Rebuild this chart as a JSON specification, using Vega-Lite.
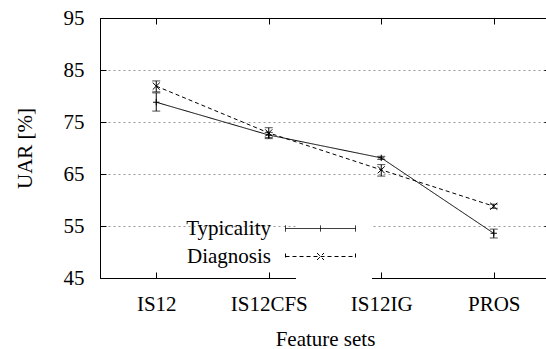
{
  "$schema": "https://vega.github.io/schema/vega-lite/v6.json",
  "width": 450,
  "height": 260,
  "autosize": {"type": "none"},
  "padding": {"left": 100, "top": 18, "right": 0, "bottom": 71},
  "background": "white",
  "config": {
    "font": "Liberation Serif",
    "view": {"stroke": "black", "strokeWidth": 1},
    "axis": {
      "labelFont": "Liberation Serif",
      "titleFont": "Liberation Serif",
      "labelFontSize": 21,
      "titleFontSize": 21,
      "titleFontWeight": "normal",
      "labelColor": "black",
      "titleColor": "black",
      "domainColor": "black",
      "tickColor": "black",
      "tickSize": -6,
      "domainWidth": 1,
      "tickWidth": 1
    }
  },
  "data": {
    "values": [
      {"set": "IS12", "series": "Typicality", "uar": 78.8, "lo": 77.1, "hi": 80.6},
      {"set": "IS12CFS", "series": "Typicality", "uar": 72.5, "lo": 72.0, "hi": 73.0},
      {"set": "IS12IG", "series": "Typicality", "uar": 68.1, "lo": 67.8, "hi": 68.4},
      {"set": "PROS", "series": "Typicality", "uar": 53.6, "lo": 52.7, "hi": 54.4},
      {"set": "IS12", "series": "Diagnosis", "uar": 81.9, "lo": 80.8, "hi": 82.9},
      {"set": "IS12CFS", "series": "Diagnosis", "uar": 72.9, "lo": 71.8, "hi": 73.9},
      {"set": "IS12IG", "series": "Diagnosis", "uar": 65.8, "lo": 64.6, "hi": 66.8},
      {"set": "PROS", "series": "Diagnosis", "uar": 58.8, "lo": 58.4, "hi": 59.2}
    ]
  },
  "resolve": {"axis": {"x": "independent", "y": "independent"}},
  "layer": [
    {
      "mark": {"type": "line", "color": "black", "strokeWidth": 1},
      "encoding": {
        "x": {"field": "set", "type": "ordinal", "sort": ["IS12", "IS12CFS", "IS12IG", "PROS"],
              "scale": {"type": "point", "padding": 0.5},
              "axis": {"title": "Feature sets", "labelAngle": 0, "labelPadding": 21, "titlePadding": 14, "grid": false}},
        "y": {"field": "uar", "type": "quantitative", "scale": {"domain": [45, 95], "nice": false, "zero": false},
              "axis": {"title": "UAR [%]", "values": [45, 55, 65, 75, 85, 95], "grid": false, "labelPadding": 22, "titlePadding": 28}},
        "strokeDash": {"field": "series", "type": "nominal",
          "scale": {"domain": ["Typicality", "Diagnosis"], "range": [[1, 0], [4, 3]]},
          "legend": {
            "title": null,
            "orient": "none",
            "legendX": 196,
            "legendY": 186,
            "labelFont": "Liberation Serif",
            "labelFontSize": 21,
            "labelColor": "black",
            "labelAlign": "right",
            "labelOffset": -60,
            "symbolSize": 100,
            "symbolStrokeWidth": 1,
            "symbolStrokeColor": "black",
            "rowPadding": 6,
            "fillColor": "white",
            "padding": 14,
            "encode": {
              "symbols": {
                "update": {
                  "shape": {"signal": "datum.value === 'Typicality' ? 'M-7,0H7M-7,-0.6V0.6M7,-0.6V0.6M0,-0.6V0.6' : 'M-7,0H7M-7,-0.6V0.6M7,-0.6V0.6M-0.7,-0.7L0.7,0.7M-0.7,0.7L0.7,-0.7'"},
                  "size": {"value": 100},
                  "stroke": {"value": "black"}
                }
              }
            }
          }}
      }
    },
    {
      "mark": {"type": "rule", "color": "black", "strokeWidth": 1},
      "encoding": {
        "x": {"field": "set", "type": "ordinal", "sort": ["IS12", "IS12CFS", "IS12IG", "PROS"], "scale": {"type": "point", "padding": 0.5}, "axis": null},
        "y": {"field": "lo", "type": "quantitative", "axis": null},
        "y2": {"field": "hi"}
      }
    },
    {
      "mark": {"type": "tick", "color": "black", "thickness": 1, "size": 8},
      "encoding": {
        "x": {"field": "set", "type": "ordinal", "sort": ["IS12", "IS12CFS", "IS12IG", "PROS"], "scale": {"type": "point", "padding": 0.5}, "axis": null},
        "y": {"field": "lo", "type": "quantitative", "axis": null}
      }
    },
    {
      "mark": {"type": "tick", "color": "black", "thickness": 1, "size": 8},
      "encoding": {
        "x": {"field": "set", "type": "ordinal", "sort": ["IS12", "IS12CFS", "IS12IG", "PROS"], "scale": {"type": "point", "padding": 0.5}, "axis": null},
        "y": {"field": "hi", "type": "quantitative", "axis": null}
      }
    },
    {
      "transform": [{"filter": "datum.series === 'Typicality'"}],
      "mark": {"type": "point", "filled": false, "color": "black", "strokeWidth": 1, "size": 40, "opacity": 1, "shape": "M-1,0H1M0,-1V1"},
      "encoding": {
        "x": {"field": "set", "type": "ordinal", "sort": ["IS12", "IS12CFS", "IS12IG", "PROS"], "scale": {"type": "point", "padding": 0.5},
              "axis": {"orient": "top", "title": null, "labels": false, "grid": false, "domain": true}},
        "y": {"field": "uar", "type": "quantitative",
              "axis": {"orient": "right", "title": null, "labels": false, "values": [55, 65, 75, 85], "grid": true, "gridDash": [2, 3], "gridColor": "#999999", "gridOpacity": 1, "domain": true}}
      }
    },
    {
      "transform": [{"filter": "datum.series === 'Diagnosis'"}],
      "mark": {"type": "point", "filled": false, "color": "black", "strokeWidth": 1, "size": 50, "opacity": 1, "shape": "M-1,-1L1,1M-1,1L1,-1"},
      "encoding": {
        "x": {"field": "set", "type": "ordinal", "sort": ["IS12", "IS12CFS", "IS12IG", "PROS"], "scale": {"type": "point", "padding": 0.5}, "axis": null},
        "y": {"field": "uar", "type": "quantitative", "axis": null}
      }
    }
  ]
}
